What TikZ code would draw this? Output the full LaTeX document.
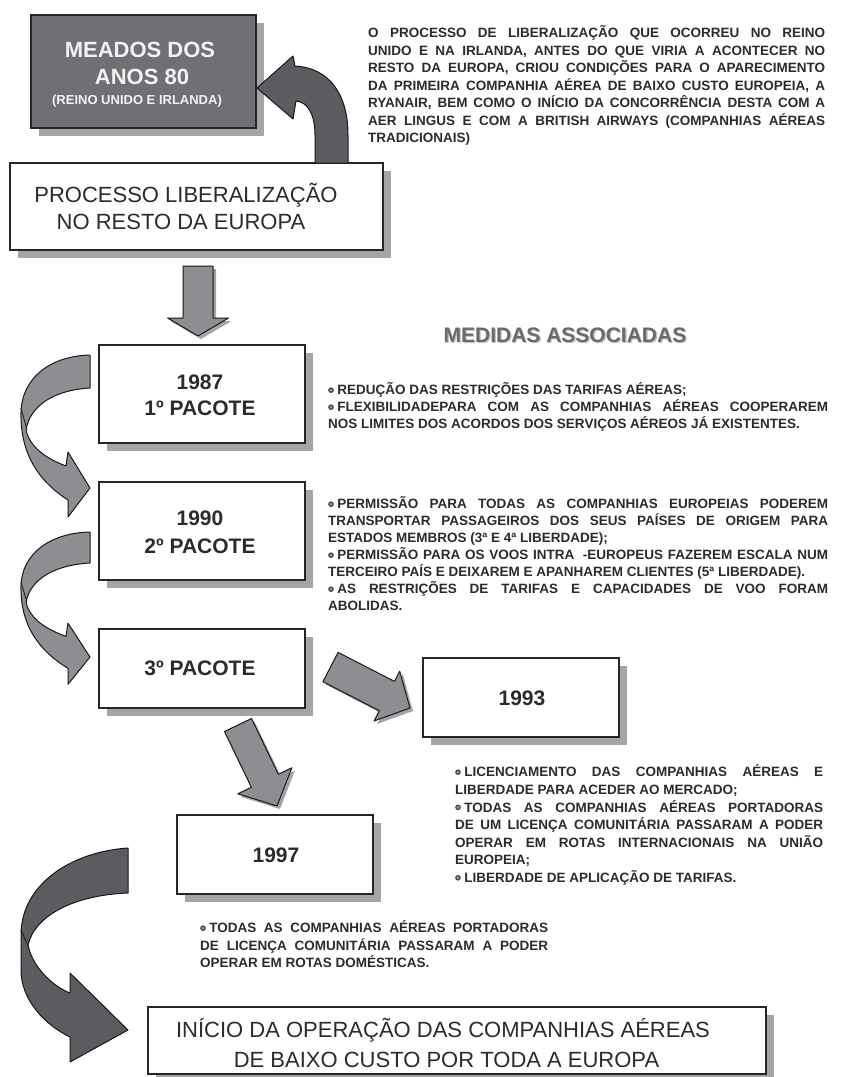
\documentclass[tikz,border=0pt]{standalone}
\usepackage{fontspec}
\setmainfont{Liberation Sans}
\usetikzlibrary{calc,shadows}
\definecolor{txt}{HTML}{2B2B2B}
\definecolor{shadowgray}{HTML}{A5A5A8}
\definecolor{boxdark}{HTML}{707074}
\definecolor{arrdark}{HTML}{5C5C60}
\definecolor{arrmid}{HTML}{8E8E92}
\definecolor{medgray}{HTML}{6A6A6A}
\newsavebox\bulbox
\newcommand\bul{\usebox\bulbox\hspace{3.5pt}}
\newcommand\jl[1]{\makebox[\linewidth][s]{#1}}
% fat straight arrow: [style]{tail}{tip}{half shaft}{half head}{head length}
\newcommand\fatarrow[6][]{%
  \coordinate (fah) at ($(#3)!#6!(#2)$);
  \draw[#1] ($(#2)!#4!90:(#3)$) -- ($(fah)!#4!90:(#3)$) -- ($(fah)!#5!90:(#3)$) -- (#3)
    -- ($(fah)!#5!-90:(#3)$) -- ($(fah)!#4!-90:(#3)$) -- ($(#2)!#4!-90:(#3)$) -- cycle;}
\begin{document}
\sbox\bulbox{\begin{pgfpicture}%
  \pgfsetbaseline{-4.6pt}%
  \pgfpathcircle{\pgfpointorigin}{2.8pt}\pgfsetfillcolor{black!75}\pgfusepath{fill}%
  \pgfpathcircle{\pgfpointorigin}{1.7pt}\pgfsetfillcolor{black!40}\pgfusepath{fill}%
  \end{pgfpicture}}%
\begin{tikzpicture}[x=1pt,y=-1pt,
  box/.style={draw=black!85, line width=1.3pt, fill=white, inner sep=0pt,
     drop shadow={shadow xshift=8pt, shadow yshift=-8pt, fill=shadowgray, opacity=1}},
  boxtxt/.style={anchor=base, text=txt, inner sep=0pt, font=\fontsize{21}{26}\selectfont\bfseries},
  bigtxt/.style={anchor=base, text=txt, inner sep=0pt, font=\fontsize{22}{27}\selectfont},
  para/.style={anchor=base west, inner sep=0pt, text=txt},
  midarrow/.style={fill=arrmid, draw=black!90, line width=1pt, line join=round,
     drop shadow={shadow xshift=3pt, shadow yshift=-3pt, fill=shadowgray, opacity=1}},
  ribbonmid/.style={fill=arrmid, draw=black!90, line width=1pt, line join=round},
  ribbondark/.style={fill=arrdark, draw=black!90, line width=1pt, line join=round},
  fold/.style={draw=black!90, line width=0.8pt}
]
\fill[white] (0,0) rectangle (847,1077);
\useasboundingbox (0,0) rectangle (847,1077);

% ---------- boxes ----------
\node[box, fill=boxdark, minimum width=225pt, minimum height=113pt] (meados) at (143.5,71.5) {};
\node[box, minimum width=373pt, minimum height=87pt] (processo) at (196.5,206.5) {};
\node[box, minimum width=206pt, minimum height=98pt] (p1) at (202,394) {};
\node[box, minimum width=206pt, minimum height=98pt] (p2) at (202,531) {};
\node[box, minimum width=206pt, minimum height=79pt] (p3) at (202,668.5) {};
\node[box, minimum width=196pt, minimum height=79pt] (y93) at (521,697.5) {};
\node[box, minimum width=196pt, minimum height=79pt] (y97) at (275,854.5) {};
\node[box, minimum width=618pt, minimum height=67pt] (final) at (457,1040.5) {};

% ---------- box texts ----------
\node[anchor=base, inner sep=0pt, text=white!95!black, font=\fontsize{22}{27}\selectfont\bfseries] (meados-t1) at (140,57.9) {MEADOS DOS};
\node[anchor=base, inner sep=0pt, text=white!95!black, font=\fontsize{22}{27}\selectfont\bfseries] (meados-t2) at (142,84.9) {ANOS 80};
\node[anchor=base, inner sep=0pt, text=white!95!black, font=\fontsize{13}{16}\selectfont\bfseries] (meados-t3) at (137,104.7) {(REINO UNIDO E IRLANDA)};
\node[bigtxt] (processo-t1) at (186,202.9) {PROCESSO LIBERALIZAÇÃO};
\node[bigtxt] (processo-t2) at (181,229.9) {NO RESTO DA EUROPA};
\node[boxtxt] (p1-t1) at (200,389.5) {1987};
\node[boxtxt] (p1-t2) at (200,415.5) {1º PACOTE};
\node[boxtxt] (p2-t1) at (200,525.5) {1990};
\node[boxtxt] (p2-t2) at (200,553.5) {2º PACOTE};
\node[boxtxt] (p3-t) at (200,675.5) {3º PACOTE};
\node[boxtxt] (y93-t) at (522,705.5) {1993};
\node[boxtxt] (y97-t) at (276,862.5) {1997};
\node[bigtxt] (final-t1) at (443,1037.9) {INÍCIO DA OPERAÇÃO DAS COMPANHIAS AÉREAS};
\node[bigtxt] (final-t2) at (446.5,1067.9) {DE BAIXO CUSTO POR TODA A EUROPA};

% ---------- heading ----------
\node[anchor=base, inner sep=0pt, text=black!25, font=\fontsize{21}{26}\selectfont\bfseries] (medidas-s) at (566.3,343.8) {MEDIDAS ASSOCIADAS};
\node[anchor=base, inner sep=0pt, text=medgray, font=\fontsize{21}{26}\selectfont\bfseries] (medidas) at (565,342.5) {MEDIDAS ASSOCIADAS};

% ---------- paragraphs ----------
\node[para, font=\fontsize{13.5}{17.5}\selectfont\bfseries] (intro) at (368,37.8) {\parbox[t]{457pt}{%
\jl{O PROCESSO DE LIBERALIZAÇÃO QUE OCORREU NO REINO}\\
\jl{UNIDO E NA IRLANDA, ANTES DO QUE VIRIA A ACONTECER NO}\\
\jl{RESTO DA EUROPA, CRIOU CONDIÇÕES PARA O APARECIMENTO}\\
\jl{DA PRIMEIRA COMPANHIA AÉREA DE BAIXO CUSTO EUROPEIA, A}\\
\jl{RYANAIR, BEM COMO O INÍCIO DA CONCORRÊNCIA DESTA COM A}\\
\jl{AER LINGUS E COM A BRITISH AIRWAYS (COMPANHIAS AÉREAS}\\
TRADICIONAIS)}};

\node[para, font=\fontsize{13.5}{17}\selectfont\bfseries] (m1987) at (328,394.8) {\parbox[t]{500pt}{%
\bul REDUÇÃO DAS RESTRIÇÕES DAS TARIFAS AÉREAS;\\
\jl{\bul FLEXIBILIDADEPARA COM AS COMPANHIAS AÉREAS COOPERAREM}\\
NOS LIMITES DOS ACORDOS DOS SERVIÇOS AÉREOS JÁ EXISTENTES.}};

\node[para, font=\fontsize{13.5}{17}\selectfont\bfseries] (m1990) at (328,508.8) {\parbox[t]{500pt}{%
\jl{\bul PERMISSÃO PARA TODAS AS COMPANHIAS EUROPEIAS PODEREM}\\
\jl{TRANSPORTAR PASSAGEIROS DOS SEUS PAÍSES DE ORIGEM PARA}\\
ESTADOS MEMBROS (3ª E 4ª LIBERDADE);\\
\jl{\bul PERMISSÃO PARA OS VOOS INTRA\hspace{4pt} -EUROPEUS FAZEREM ESCALA NUM}\\
TERCEIRO PAÍS E DEIXAREM E APANHAREM CLIENTES (5ª LIBERDADE).\\
\jl{\bul AS RESTRIÇÕES DE TARIFAS E CAPACIDADES DE VOO FORAM}\\
ABOLIDAS.}};

\node[para, font=\fontsize{13.5}{17.6}\selectfont\bfseries] (m1993) at (455,776.8) {\parbox[t]{368pt}{%
\jl{\bul LICENCIAMENTO DAS COMPANHIAS AÉREAS E}\\
LIBERDADE PARA ACEDER AO MERCADO;\\
\jl{\bul TODAS AS COMPANHIAS AÉREAS PORTADORAS}\\
\jl{DE UM LICENÇA COMUNITÁRIA PASSARAM A PODER}\\
\jl{OPERAR EM ROTAS INTERNACIONAIS NA UNIÃO}\\
EUROPEIA;\\
\bul LIBERDADE DE APLICAÇÃO DE TARIFAS.}};

\node[para, font=\fontsize{13.5}{17.5}\selectfont\bfseries] (m1997) at (200,932.8) {\parbox[t]{348pt}{%
\jl{\bul TODAS AS COMPANHIAS AÉREAS PORTADORAS}\\
\jl{DE LICENÇA COMUNITÁRIA PASSARAM A PODER}\\
OPERAR EM ROTAS DOMÉSTICAS.}};

% ---------- straight block arrows ----------
\coordinate (a0s) at (198,266);   \coordinate (a0e) at (198,336);
\coordinate (a3s) at (330.5,667); \coordinate (a3e) at (410,708);
\coordinate (a4s) at (238,725);   \coordinate (a4e) at (277,806);
\fatarrow[midarrow]{a0s}{a0e}{15pt}{30.5pt}{18pt}
\fatarrow[midarrow]{a3s}{a3e}{16.5pt}{28pt}{26pt}
\fatarrow[midarrow]{a4s}{a4e}{15pt}{30pt}{28pt}

% ---------- curved arrow: resto da Europa -> meados 80 ----------
\draw[ribbondark] (348,163) -- (348,135) .. controls (348,95) and (330,68) .. (295,66)
  -- (293,56) -- (257,88) -- (293,119) -- (296,101)
  .. controls (308,102) and (315,115) .. (315,135) -- (315,163) -- cycle;

% ---------- ribbon arrows between pacotes ----------
\begin{scope}[shift={(90,355)}]
\draw[ribbonmid] (0,0) .. controls (-40,1) and (-68,23) .. (-69,57)
  .. controls (-70,100) and (-50,127) .. (-22,145) -- (-22,162) -- (0,133) -- (-22,97) -- (-24,111)
  .. controls (-45,103) and (-60,92) .. (-64,75) .. controls (-60,50) and (-35,35) .. (0,33) -- cycle;
\draw[fold] (-69,53) -- (-63,75);
\end{scope}
\begin{scope}[shift={(90,532)}, yscale=0.94]
\draw[ribbonmid] (0,0) .. controls (-40,1) and (-68,23) .. (-69,57)
  .. controls (-70,100) and (-50,127) .. (-22,145) -- (-22,162) -- (0,133) -- (-22,97) -- (-24,111)
  .. controls (-45,103) and (-60,92) .. (-64,75) .. controls (-60,50) and (-35,35) .. (0,33) -- cycle;
\draw[fold] (-69,53) -- (-63,75);
\end{scope}

% ---------- big ribbon arrow to final box ----------
\begin{scope}[shift={(128,848)}]
\draw[ribbondark] (0,0) .. controls (-58,4) and (-107,37) .. (-107,87) -- (-107,122)
  .. controls (-107,152) and (-83,177) .. (-58,189) -- (-58,214) -- (0,182) -- (-58,125) -- (-58,145)
  .. controls (-78,137) and (-96,117) .. (-100,97) .. controls (-93,67) and (-53,47) .. (0,45) -- cycle;
\draw[fold] (-107,82) -- (-99,100);
\end{scope}
\end{tikzpicture}
\end{document}
